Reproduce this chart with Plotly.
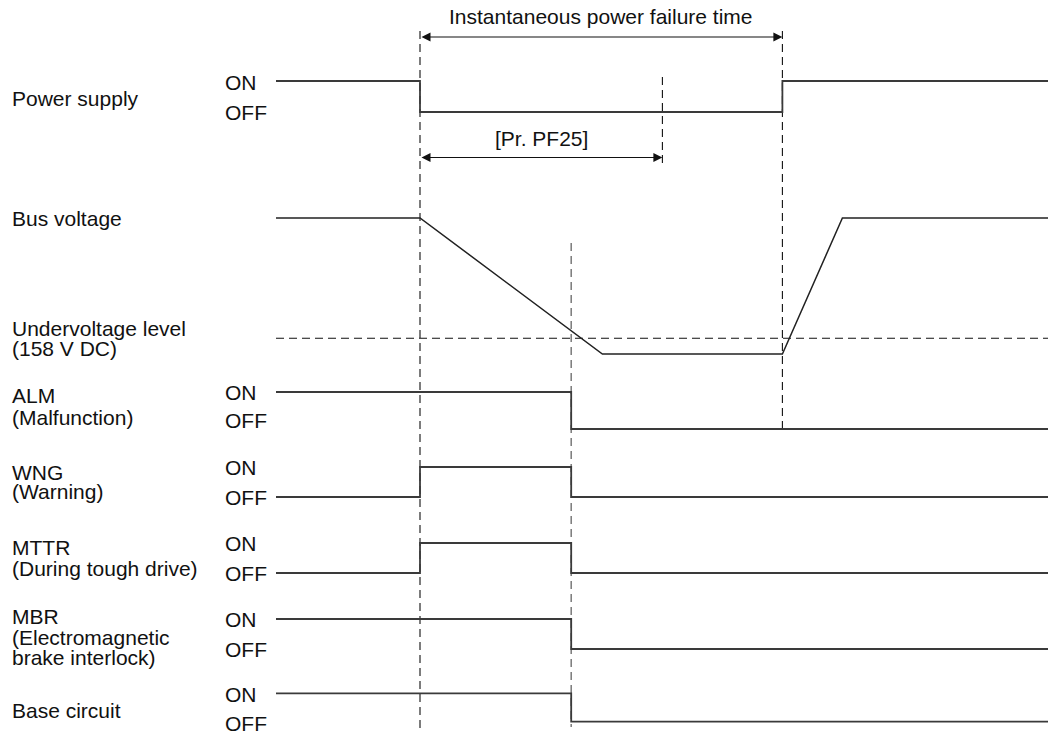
import plotly.graph_objects as go

W, H = 1056, 733
OFF = 8  # page body margin: the figure starts at (8, 8) in the window
FW, FH = W - OFF, H - OFF

# ---------------- data ----------------
# event times (ms, relative to the power failure)
T_START = -12.0
T_FAIL = 0.0
T_ALARM = 12.6
T_BUS_MIN = 15.2
T_PF25 = 20.2
T_RESTORE = 30.2
T_BUS_OK = 35.2
T_END = 53.0

# digital signals: change times and states (1 = ON, 0 = OFF)
power_t = [T_START, T_FAIL, T_RESTORE, T_END]
power_s = [1, 0, 1, 1]
alm_t = [T_START, T_ALARM, T_END]
alm_s = [1, 0, 0]
wng_t = [T_START, T_FAIL, T_ALARM, T_END]
wng_s = [0, 1, 0, 0]
mttr_t = [T_START, T_FAIL, T_ALARM, T_END]
mttr_s = [0, 1, 0, 0]
mbr_t = [T_START, T_ALARM, T_END]
mbr_s = [1, 0, 0]
base_t = [T_START, T_ALARM, T_END]
base_s = [1, 0, 0]

# bus voltage (V DC)
bus_t = [T_START, T_FAIL, T_BUS_MIN, T_RESTORE, T_BUS_OK, T_END]
bus_v = [280, 280, 142, 142, 280, 280]
UV_LEVEL = 158

left_labels = ["Power supply", "Bus voltage", "Undervoltage level", "(158 V DC)",
               "ALM", "(Malfunction)", "WNG", "(Warning)", "MTTR",
               "(During tough drive)", "MBR", "(Electromagnetic", "brake interlock)",
               "Base circuit"]
title_text = "Instantaneous power failure time"
pf25_text = "[Pr. PF25]"

# ---------------- layout helpers ----------------
PX_PER_MS = 12.0
X0_PX = 420.0  # window pixel of T_FAIL
x_range = [(OFF - X0_PX) / PX_PER_MS, (W - X0_PX) / PX_PER_MS]


def yp(px):
    return 1 - (px - OFF) / FH


def xp(px):
    return (px - OFF) / FW


def axis_map(v0, p0, v1, p1, r0, r1):
    scale = (p0 - p1) / (v1 - v0)
    px_r0 = p0 + (v0 - r0) * scale
    px_r1 = p0 - (r1 - v0) * scale
    return dict(range=[r0, r1], domain=[max(0, yp(px_r0)), min(1, yp(px_r1))])


FONT = dict(family="Liberation Sans, Arial, sans-serif", size=21, color="#111111")
SIG_COLOR = "#3a3a3a"

fig = go.Figure()
layout_axes = {}

# rows: (name, times, states, ON px, OFF px, ON-label px, OFF-label px)
rows = [
    ("power", power_t, power_s, 81, 112, 82, 112),
    ("alm", alm_t, alm_s, 392, 429, 392, 420),
    ("wng", wng_t, wng_s, 467, 497, 467, 497),
    ("mttr", mttr_t, mttr_s, 543, 573, 543, 573),
    ("mbr", mbr_t, mbr_s, 619, 649, 619, 649),
    ("base", base_t, base_s, 694, 724, 694, 723),
]

annotations = []
ax_idx = 2
for name, t, s, on_px, off_px, on_lbl, off_lbl in rows:
    yid = f"y{ax_idx}"
    m = axis_map(0, off_px, 1, on_px, -0.4, 1.4)
    layout_axes[f"yaxis{ax_idx}"] = dict(range=m["range"], domain=m["domain"], visible=False,
                                          fixedrange=True, anchor="x")
    fig.add_trace(go.Scatter(x=t, y=s, mode="lines", line=dict(shape="hv", color=SIG_COLOR, width=1.8),
                             xaxis="x", yaxis=yid, hoverinfo="skip", showlegend=False))
    annotations.append(dict(text="ON", x=xp(223), y=yp(on_lbl), xref="paper", yref="paper",
                            xanchor="left", yanchor="middle", showarrow=False, font=FONT))
    annotations.append(dict(text="OFF", x=xp(223), y=yp(off_lbl), xref="paper", yref="paper",
                            xanchor="left", yanchor="middle", showarrow=False, font=FONT))
    ax_idx += 1

# bus voltage axis
bus_id = f"y{ax_idx}"
m = axis_map(142, 354, 280, 218, 100, 320)
layout_axes[f"yaxis{ax_idx}"] = dict(range=m["range"], domain=m["domain"], visible=False,
                                      fixedrange=True, anchor="x")
fig.add_trace(go.Scatter(x=bus_t, y=bus_v, mode="lines", line=dict(color="#222222", width=1.5),
                         xaxis="x", yaxis=bus_id, hoverinfo="skip", showlegend=False))

# left labels
label_px = [98, 218, 328, 348, 395, 417, 472, 492, 547, 568, 616, 637, 657, 710]
for txt, py in zip(left_labels, label_px):
    annotations.append(dict(text=txt, x=xp(10), y=yp(py), xref="paper", yref="paper",
                            xanchor="left", yanchor="middle", showarrow=False, font=FONT))

# title / pf25 texts
annotations.append(dict(text=title_text, x=(T_FAIL + T_RESTORE) / 2, y=yp(17), xref="x", yref="paper",
                        xanchor="center", yanchor="middle", showarrow=False, font=FONT))
annotations.append(dict(text=pf25_text, x=(T_FAIL + T_PF25) / 2, y=yp(138), xref="x", yref="paper",
                        xanchor="center", yanchor="middle", showarrow=False, font=FONT))

# double-headed arrows
for t0, t1, py in [(T_FAIL, T_RESTORE, 37), (T_FAIL, T_PF25, 157.5)]:
    annotations.append(dict(text="", x=t1, y=yp(py), xref="x", yref="paper",
                            ax=t0, ay=0, axref="x", ayref="pixel",
                            showarrow=True, arrowhead=2, startarrowhead=2, arrowside="end+start",
                            arrowsize=1.5, startarrowsize=1.5, arrowwidth=1.2, arrowcolor="#111111",
                            standoff=0, startstandoff=0))

shapes = []
DASH = "8px,5px"
# vertical timing lines
for t, top, bot, col, w in [(T_FAIL, 31, 728, "#111111", 1.1),
                            (T_PF25, 77, 163, "#111111", 1.1),
                            (T_RESTORE, 31, 434, "#111111", 1.1),
                            (T_ALARM, 243, 727, "#7a7a7a", 1.5)]:
    shapes.append(dict(type="line", xref="x", yref="paper", x0=t, x1=t, y0=yp(top), y1=yp(bot),
                       line=dict(color=col, width=w, dash=DASH), layer="below"))
# undervoltage level
shapes.append(dict(type="line", xref="x", yref=bus_id, x0=T_START, x1=T_END, y0=UV_LEVEL, y1=UV_LEVEL,
                   line=dict(color="#111111", width=1.1, dash=DASH), layer="below"))

fig.update_layout(
    width=FW, height=FH,
    margin=dict(l=0, r=0, t=0, b=0),
    paper_bgcolor="white", plot_bgcolor="rgba(0,0,0,0)",
    xaxis=dict(range=x_range, domain=[0, 1], visible=False, fixedrange=True),
    yaxis=dict(visible=False, domain=[0, 1], range=[0, 1]),
    annotations=annotations,
    shapes=shapes,
    showlegend=False,
    **layout_axes,
)

fig.write_html("out.html", config=dict(displayModeBar=False))
